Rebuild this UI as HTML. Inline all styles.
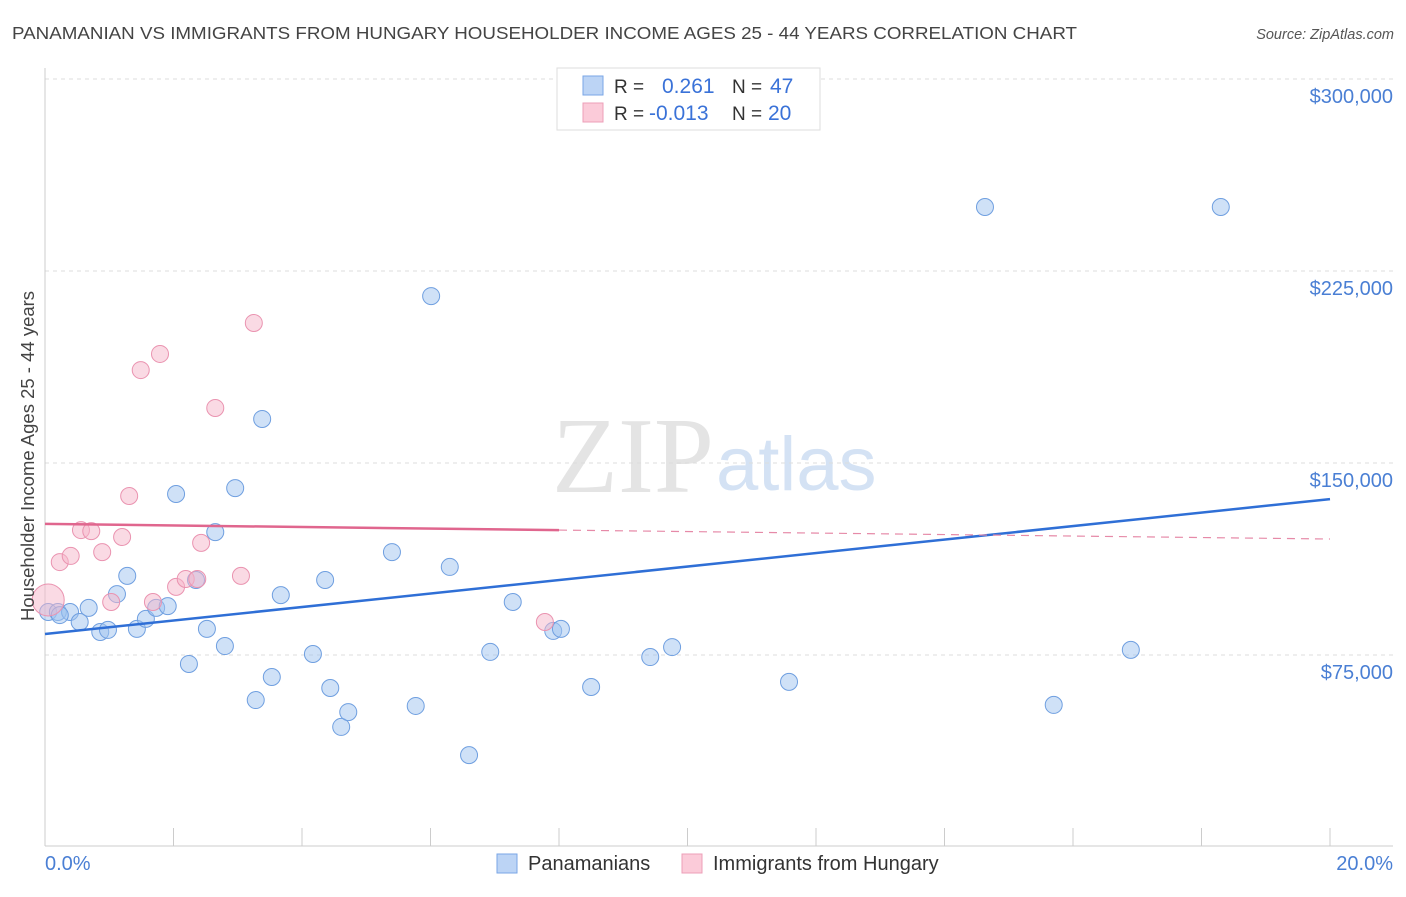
<!DOCTYPE html>
<html><head><meta charset="utf-8"><style>
body{margin:0;background:#fff;font-family:"Liberation Sans",sans-serif}
</style></head><body>
<svg id="c" width="1406" height="892" xmlns="http://www.w3.org/2000/svg">
<text x="12" y="39" font-size="17.5" fill="#444" textLength="1065" lengthAdjust="spacingAndGlyphs">PANAMANIAN VS IMMIGRANTS FROM HUNGARY HOUSEHOLDER INCOME AGES 25 - 44 YEARS CORRELATION CHART</text>
<text x="1394" y="39" font-size="14.5" fill="#555" font-style="italic" text-anchor="end">Source: ZipAtlas.com</text>
<text x="714" y="492" font-size="108" fill="#e4e4e4" text-anchor="end" font-family="Liberation Serif,serif">ZIP</text>
<text x="716" y="490" font-size="76" fill="#d4e2f4">atlas</text>
<g id="grid"></g><g id="pts"></g><g id="lines"></g>
<text transform="translate(34,456) rotate(-90)" font-size="18.5" fill="#444" text-anchor="middle">Householder Income Ages 25 - 44 years</text>
<text x="45" y="870" font-size="20" fill="#4a7fd4">0.0%</text>
<text x="1393" y="870" font-size="20" fill="#4a7fd4" text-anchor="end">20.0%</text>
<g>
<rect x="557" y="68" width="263" height="62" fill="#fff" stroke="#ddd"/>
<rect x="583" y="76" width="20" height="19" fill="#bcd4f5" stroke="#7aa6e6"/>
<rect x="583" y="103" width="20" height="19" fill="#fbcbd9" stroke="#ec9fb8"/>
<text x="614" y="93" font-size="19" fill="#333">R = <tspan fill="#3a72d8" x="662" font-size="21">0.261</tspan><tspan fill="#333" x="732">N =</tspan><tspan fill="#3a72d8" x="770" font-size="21">47</tspan></text>
<text x="614" y="120" font-size="19" fill="#333">R = <tspan fill="#3a72d8" x="649" font-size="21">-0.013</tspan><tspan fill="#333" x="732">N =</tspan><tspan fill="#3a72d8" x="768" font-size="21">20</tspan></text>
</g>
<g>
<rect x="497" y="854" width="20" height="19" fill="#bcd4f5" stroke="#7aa6e6"/>
<text x="528" y="870" font-size="20" fill="#333">Panamanians</text>
<rect x="682" y="854" width="20" height="19" fill="#fbcbd9" stroke="#ec9fb8"/>
<text x="713" y="870" font-size="20" fill="#333">Immigrants from Hungary</text>
</g>
</svg>
<script>
const yTicks=[75000,150000,225000,300000];
const yTickLabels=["$75,000","$150,000","$225,000","$300,000"];
const xTicks=[0,2,4,6,8,10,12,14,16,18,20];
const blueX=[0.05,0.2,0.39,0.54,0.68,0.86,0.98,1.12,1.28,1.43,1.57,1.73,1.91,2.04,2.24,2.35,2.52,2.65,2.8,2.96,3.28,3.38,3.53,3.67,4.17,4.36,4.44,4.61,4.72,5.4,5.77,6.01,6.3,6.6,6.93,7.28,7.91,8.03,8.5,9.42,9.76,11.58,14.63,15.7,16.9,18.3,0.23];
const blueY=[91.8,91.8,91.8,87.9,93.4,84,84.8,98.8,105.9,85.2,89.1,93.4,94.1,137.9,71.5,104.3,85.2,123,78.5,140.2,57.4,167.2,66.4,98.4,75.4,104.3,62.1,46.9,52.7,115.2,55.1,215.2,109.4,35.9,76.2,95.7,84.4,85.2,62.5,74.2,78.1,64.5,250,55.5,77,250,90.6];
const pinkX=[0.05,0.23,0.4,0.56,0.72,0.89,1.03,1.2,1.31,1.49,1.68,1.79,2.04,2.19,2.37,2.43,2.65,3.05,3.25,7.78];
const pinkY=[96.5,111.3,113.7,123.8,123.4,115.2,95.7,121.1,137.1,186.3,95.7,192.6,101.6,104.7,104.7,118.8,171.5,105.9,204.7,87.9];
const blueTrend=[83.2,135.9];
const pinkTrend=[126.2,123.8,120.3];
const X=v=>45+v*64.25, Y=k=>463-(k-150)*192/75;
const NS="http://www.w3.org/2000/svg";
function mk(p,t,a){const e=document.createElementNS(NS,t);for(const k in a)e.setAttribute(k,a[k]);p.appendChild(e);return e;}
const g=document.getElementById('grid');
yTicks.forEach((v,i)=>{const y=Y(v/1000);
const l=mk(g,'line',{x1:45,x2:1393,y1:y,y2:y,stroke:'#ddd','stroke-dasharray':'4,4'});


const t=mk(g,'text',{x:1393,y:y+24,'font-size':20,fill:'#4a7fd4','text-anchor':'end'});t.textContent=yTickLabels[i];

});
let ax=mk(g,'line',{x1:45,x2:45,y1:68,y2:846,stroke:'#ccc'});


let bx=mk(g,'line',{x1:45,x2:1393,y1:846,y2:846,stroke:'#ccc'});


xTicks.forEach(v=>{const t=mk(g,'line',{x1:X(v),x2:X(v),y1:828,y2:846,stroke:'#ccc'});

});
const p=document.getElementById('pts');
blueX.forEach((v,i)=>{const c=mk(p,'circle',{cx:X(v),cy:Y(blueY[i]),r:8.5,fill:'rgba(160,196,240,0.5)',stroke:'#6f9fe0','stroke-width':1});

});
pinkX.forEach((v,i)=>{const c=mk(p,'circle',{cx:X(v),cy:Y(pinkY[i]),r:i==0?16:8.5,fill:'rgba(246,182,202,0.5)',stroke:'#ea93b0','stroke-width':1});

});
const L=document.getElementById('lines');
let b=mk(L,'line',{x1:X(0),y1:Y(blueTrend[0]),x2:X(20),y2:Y(blueTrend[1]),stroke:'#2f6fd6','stroke-width':2.5});


let s=mk(L,'line',{x1:X(0),y1:Y(pinkTrend[0]),x2:X(8),y2:Y(pinkTrend[1]),stroke:'#e0668e','stroke-width':2.5});


let d=mk(L,'line',{x1:X(8),y1:Y(pinkTrend[1]),x2:X(20),y2:Y(pinkTrend[2]),stroke:'#e68aa8','stroke-width':1.2,'stroke-dasharray':'8,6'});


</script>
</body></html>
